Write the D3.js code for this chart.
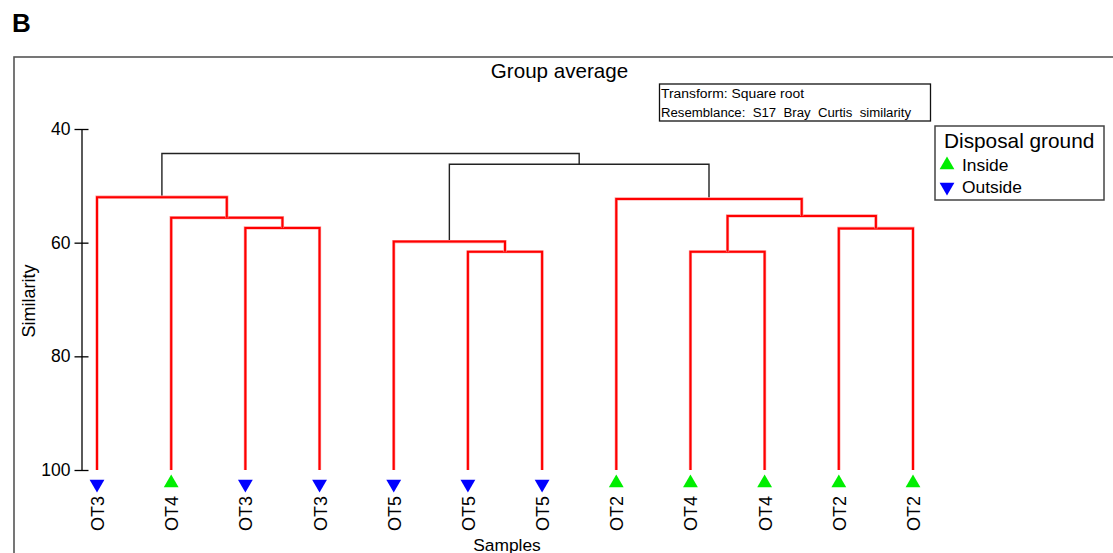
<!DOCTYPE html>
<html><head><meta charset="utf-8">
<script src="https://cdn.jsdelivr.net/npm/d3@7"></script>
<style>
html,body{margin:0;padding:0;background:#fff;}
svg text{font-family:"Liberation Sans",Arial,sans-serif;}
</style></head>
<body><svg id="c" width="1113" height="553"></svg>
<script>
// ---- data ----
const leafLabels = ["OT3","OT4","OT3","OT3","OT5","OT5","OT5","OT2","OT4","OT4","OT2","OT2"];
const leafGroups = ["Outside","Inside","Outside","Outside","Outside","Outside","Outside","Inside","Inside","Inside","Inside","Inside"];
// merges: [childA, childB, similarity]; node ids: leaves 0..11, merges 12..
const merges = [
  [10, 11, 57.5],
  [8, 9, 61.6],
  [13, 12, 55.3],
  [7, 14, 52.3],
  [5, 6, 61.6],
  [4, 16, 59.8],
  [17, 15, 46.2],
  [2, 3, 57.4],
  [1, 19, 55.6],
  [0, 20, 52.0],
  [21, 18, 44.3]
];
const mergeSignificant = [true,true,true,true,true,true,false,true,true,true,false];
const yTicks = [40, 60, 80, 100];
const legendItems = ["Inside","Outside"];
const infoLines = ["Transform: Square root","Resemblance:  S17  Bray  Curtis  similarity"];

// ---- drawing ----
const svg = d3.select("#c");
const x = d3.scalePoint().domain(d3.range(leafLabels.length)).range([97, 913]);
const y = d3.scaleLinear().domain([40, 100]).range([129, 470]);
const groupColor = d3.scaleOrdinal().domain(legendItems).range(["#00ee00","#0000ff"]);
const triUp = d3.symbol().type(d3.symbolTriangle).size(95);

svg.append("text").attr("x", 12).attr("y", 32).attr("font-size", 26).attr("font-weight", "bold").text("B");
svg.append("rect").attr("x", 14).attr("y", 57).attr("width", 1120).attr("height", 520)
  .attr("fill", "none").attr("stroke", "#555").attr("stroke-width", 1.6);

svg.append("text").attr("x", 559.5).attr("y", 78).attr("text-anchor", "middle").attr("font-size", 20.6).text("Group average");

// info box
svg.append("rect").attr("x", 659.5).attr("y", 84).attr("width", 271).attr("height", 37)
  .attr("fill", "#fff").attr("stroke", "#111").attr("stroke-width", 1.3);
infoLines.forEach((t, i) => svg.append("text").attr("x", 661).attr("y", 98 + i * 19)
  .attr("font-size", 12.5).attr("textLength", i ? 250 : 143).attr("lengthAdjust","spacingAndGlyphs")
  .style("white-space","pre").text(t));

// legend
svg.append("rect").attr("x", 935).attr("y", 126).attr("width", 169).attr("height", 74)
  .attr("fill", "#fff").attr("stroke", "#444").attr("stroke-width", 1.5);
svg.append("text").attr("x", 944).attr("y", 147.5).attr("font-size", 20.8).text("Disposal ground");
legendItems.forEach((g, i) => {
  const cy = 165 + i * 22;
  svg.append("path").attr("d", triUp()).attr("fill", groupColor(g))
    .attr("transform", `translate(947,${cy}) rotate(${g === "Inside" ? 0 : 180})`);
  svg.append("text").attr("x", 962).attr("y", cy + 6).attr("font-size", 17.4).text(g);
});

// axis
const axis = d3.axisLeft(y).tickValues(yTicks).tickSizeInner(7).tickSizeOuter(0).tickPadding(4);
const ax = svg.append("g").attr("transform", "translate(81.5,0)").call(axis);
ax.select(".domain").attr("stroke", "#000").attr("stroke-width", 1.3);
ax.selectAll(".tick line").attr("stroke", "#000").attr("stroke-width", 1.3).attr("x2", 7).attr("x1", -7);
ax.selectAll(".tick text").attr("font-size", 17.5).attr("fill", "#000").attr("font-family", "Liberation Sans, Arial, sans-serif").attr("x", -11);
svg.append("text").attr("transform", "translate(35,301) rotate(-90)").attr("text-anchor", "middle").attr("font-size", 18).text("Similarity");
svg.append("text").attr("x", 507).attr("y", 550.5).attr("text-anchor", "middle").attr("font-size", 17.4).text("Samples");

// dendrogram node positions
const nLeaf = leafLabels.length;
const nodeX = [], nodeY = [];
leafLabels.forEach((_, i) => { nodeX[i] = x(i); nodeY[i] = 100; });
merges.forEach((m, k) => {
  const id = nLeaf + k;
  nodeX[id] = (nodeX[m[0]] + nodeX[m[1]]) / 2;
  nodeY[id] = m[2];
});
const linkData = merges.map((m, k) => ({a: m[0], b: m[1], h: m[2], sig: mergeSignificant[k]}));
const lines = svg.append("g");
linkData.filter(d => !d.sig).concat(linkData.filter(d => d.sig)).forEach(d => {
  const p = `M${nodeX[d.a]},${y(nodeY[d.a])}V${y(d.h)}H${nodeX[d.b]}V${y(nodeY[d.b])}`;
  if (d.sig) {
    lines.append("path").attr("d", p).attr("fill", "none").attr("stroke", "#ff9a9a").attr("stroke-width", 3.2);
    lines.append("path").attr("d", p).attr("fill", "none").attr("stroke", "#ff0000").attr("stroke-width", 2);
  } else {
    lines.append("path").attr("d", p).attr("fill", "none").attr("stroke", "#222").attr("stroke-width", 1.4);
  }
});

// leaf markers and labels
leafLabels.forEach((lab, i) => {
  const g = leafGroups[i];
  const up = g === "Inside";
  svg.append("path").attr("d", triUp()).attr("fill", groupColor(g))
    .attr("transform", `translate(${x(i)},${up ? 483 : 484}) rotate(${up ? 0 : 180})`);
  svg.append("text").attr("transform", `translate(${x(i) + 7},496) rotate(-90)`)
    .attr("text-anchor", "end").attr("font-size", 18).text(lab);
});
</script></body></html>
